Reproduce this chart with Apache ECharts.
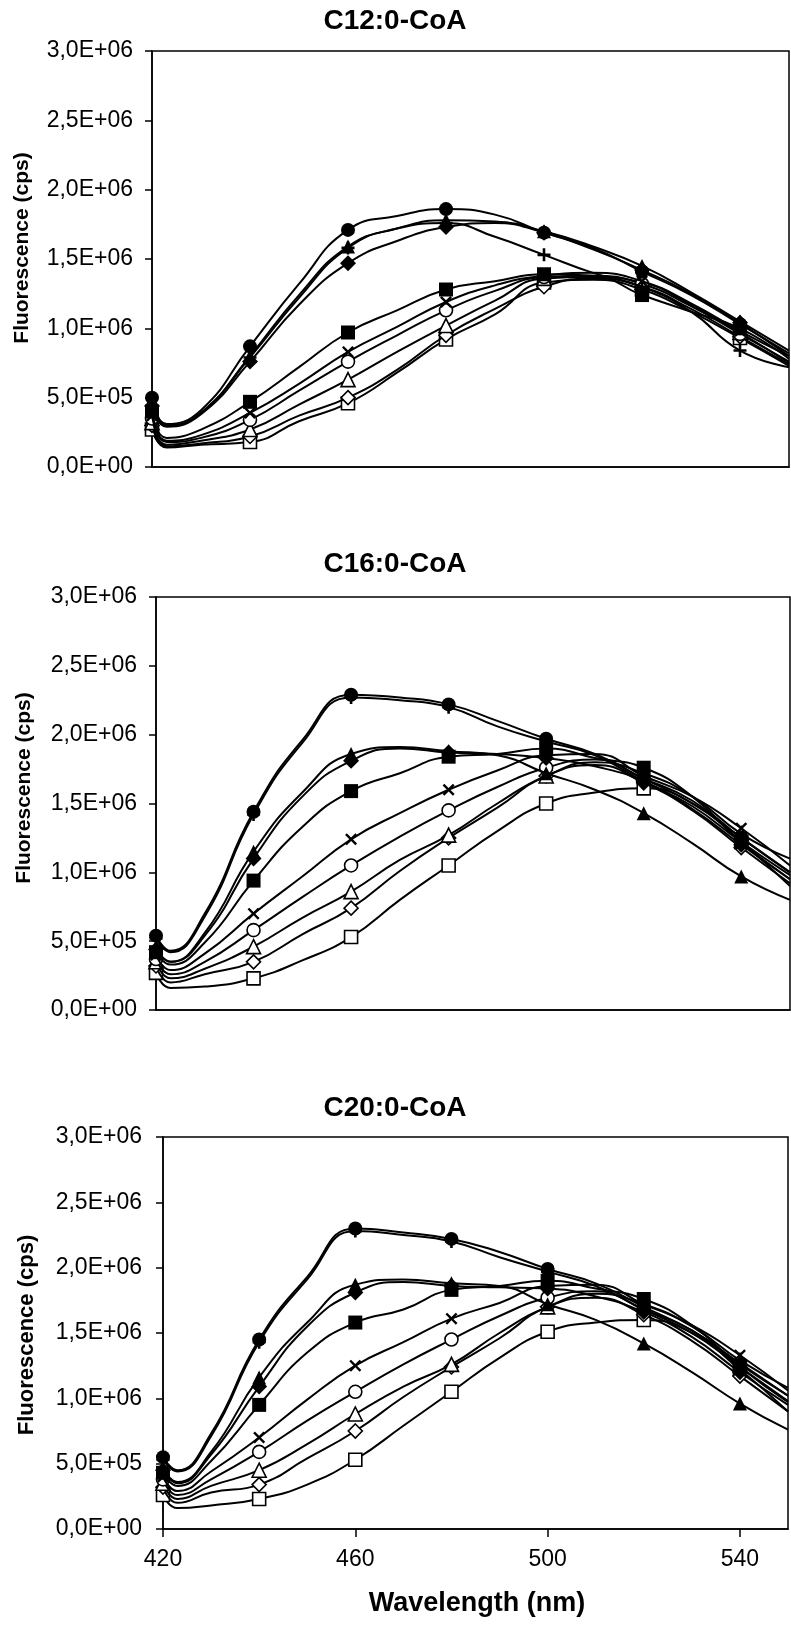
<!DOCTYPE html>
<html>
<head>
<meta charset="utf-8">
<script src="https://cdn.jsdelivr.net/npm/echarts@6/dist/echarts.min.js"></script>
<style>
  html, body { margin: 0; padding: 0; background: #fff; }
  #chart { width: 791px; height: 1642px; }
</style>
</head>
<body>
<div id="chart"></div>
<script>
const wavelengths = [420, 423, 430, 440, 450, 460, 470, 480, 490, 500, 510, 520, 530, 540, 550];
const markerWavelengths = [420, 440, 460, 480, 500, 520, 540];
const xTickValues = [420, 460, 500, 540];
const panelTitles = ["C12:0-CoA", "C16:0-CoA", "C20:0-CoA"];
const seriesNames = ["filled circle", "filled triangle", "filled diamond", "plus", "filled square",
  "cross", "open circle", "open triangle", "open diamond", "open square"];

// fluorescence, in 10^6 cps
const c12Circle       = [0.50, 0.31, 0.41, 0.87, 1.32, 1.71, 1.81, 1.86, 1.82, 1.69, 1.58, 1.41, 1.24, 1.03, 0.82];
const c12Triangle     = [0.46, 0.30, 0.39, 0.80, 1.24, 1.59, 1.72, 1.78, 1.77, 1.70, 1.59, 1.45, 1.26, 1.05, 0.84];
const c12Diamond      = [0.44, 0.29, 0.38, 0.76, 1.17, 1.47, 1.63, 1.73, 1.76, 1.69, 1.57, 1.42, 1.25, 1.04, 0.80];
const c12Plus         = [0.42, 0.30, 0.39, 0.79, 1.22, 1.58, 1.72, 1.76, 1.66, 1.53, 1.40, 1.30, 1.12, 0.84, 0.72];
const c12Square       = [0.40, 0.21, 0.27, 0.47, 0.72, 0.97, 1.13, 1.28, 1.34, 1.39, 1.38, 1.24, 1.12, 1.00, 0.78];
const c12Cross        = [0.37, 0.19, 0.23, 0.39, 0.60, 0.83, 1.01, 1.19, 1.31, 1.38, 1.40, 1.34, 1.18, 0.98, 0.80];
const c12OpenCircle   = [0.35, 0.18, 0.21, 0.34, 0.55, 0.76, 0.95, 1.13, 1.27, 1.37, 1.38, 1.32, 1.16, 0.96, 0.76];
const c12OpenTriangle = [0.32, 0.16, 0.19, 0.27, 0.45, 0.63, 0.83, 1.02, 1.20, 1.36, 1.37, 1.33, 1.17, 0.97, 0.75];
const c12OpenDiamond  = [0.30, 0.15, 0.17, 0.22, 0.37, 0.50, 0.70, 0.95, 1.14, 1.30, 1.36, 1.30, 1.14, 0.94, 0.74];
const c12OpenSquare   = [0.27, 0.14, 0.16, 0.18, 0.33, 0.46, 0.68, 0.92, 1.10, 1.33, 1.35, 1.28, 1.12, 0.93, 0.73];

const c16Circle       = [0.54, 0.43, 0.70, 1.44, 1.96, 2.29, 2.27, 2.22, 2.10, 1.97, 1.86, 1.68, 1.50, 1.25, 1.00];
const c16Triangle     = [0.45, 0.35, 0.56, 1.15, 1.58, 1.86, 1.91, 1.88, 1.85, 1.72, 1.60, 1.43, 1.21, 0.97, 0.80];
const c16Diamond      = [0.44, 0.35, 0.54, 1.10, 1.55, 1.81, 1.90, 1.87, 1.86, 1.83, 1.77, 1.66, 1.46, 1.20, 0.95];
const c16Plus         = [0.52, 0.42, 0.68, 1.42, 1.94, 2.27, 2.25, 2.20, 2.06, 1.95, 1.85, 1.66, 1.48, 1.22, 0.98];
const c16Square       = [0.42, 0.33, 0.49, 0.94, 1.33, 1.59, 1.72, 1.84, 1.86, 1.90, 1.83, 1.76, 1.55, 1.22, 0.95];
const c16Cross        = [0.40, 0.29, 0.41, 0.70, 0.97, 1.24, 1.43, 1.60, 1.74, 1.85, 1.86, 1.70, 1.55, 1.32, 1.05];
const c16OpenCircle   = [0.37, 0.26, 0.35, 0.58, 0.82, 1.05, 1.26, 1.45, 1.62, 1.76, 1.82, 1.68, 1.52, 1.25, 1.00];
const c16OpenTriangle = [0.35, 0.23, 0.30, 0.46, 0.67, 0.86, 1.09, 1.27, 1.50, 1.70, 1.80, 1.72, 1.55, 1.28, 1.10];
const c16OpenDiamond  = [0.32, 0.20, 0.26, 0.35, 0.55, 0.74, 1.01, 1.25, 1.47, 1.70, 1.78, 1.65, 1.45, 1.18, 0.92];
const c16OpenSquare   = [0.27, 0.16, 0.17, 0.23, 0.36, 0.53, 0.80, 1.05, 1.30, 1.50, 1.58, 1.61, 1.50, 1.22, 0.90];

const c20Circle       = [0.55, 0.45, 0.73, 1.45, 1.93, 2.30, 2.27, 2.22, 2.12, 1.99, 1.88, 1.70, 1.52, 1.27, 1.02];
const c20Triangle     = [0.46, 0.36, 0.59, 1.16, 1.58, 1.87, 1.91, 1.88, 1.86, 1.72, 1.60, 1.42, 1.20, 0.96, 0.76];
const c20Diamond      = [0.45, 0.35, 0.57, 1.09, 1.55, 1.81, 1.89, 1.86, 1.85, 1.84, 1.78, 1.66, 1.47, 1.20, 0.95];
const c20Plus         = [0.53, 0.44, 0.71, 1.43, 1.91, 2.28, 2.25, 2.20, 2.08, 1.97, 1.86, 1.68, 1.50, 1.24, 0.98];
const c20Square       = [0.43, 0.33, 0.52, 0.95, 1.35, 1.58, 1.68, 1.83, 1.86, 1.90, 1.84, 1.76, 1.56, 1.24, 0.97];
const c20Cross        = [0.40, 0.29, 0.44, 0.70, 0.99, 1.25, 1.43, 1.61, 1.73, 1.86, 1.87, 1.72, 1.56, 1.33, 1.06];
const c20OpenCircle   = [0.38, 0.26, 0.38, 0.59, 0.83, 1.05, 1.26, 1.45, 1.63, 1.77, 1.82, 1.68, 1.52, 1.26, 1.02];
const c20OpenTriangle = [0.35, 0.23, 0.33, 0.45, 0.65, 0.88, 1.09, 1.26, 1.50, 1.70, 1.80, 1.72, 1.55, 1.29, 1.08];
const c20OpenDiamond  = [0.32, 0.20, 0.28, 0.34, 0.54, 0.75, 1.01, 1.24, 1.46, 1.70, 1.77, 1.64, 1.44, 1.17, 0.90];
const c20OpenSquare   = [0.26, 0.16, 0.18, 0.23, 0.34, 0.53, 0.79, 1.05, 1.31, 1.51, 1.58, 1.60, 1.50, 1.22, 0.90];

const panels = [
  [c12Circle, c12Triangle, c12Diamond, c12Plus, c12Square, c12Cross, c12OpenCircle, c12OpenTriangle, c12OpenDiamond, c12OpenSquare],
  [c16Circle, c16Triangle, c16Diamond, c16Plus, c16Square, c16Cross, c16OpenCircle, c16OpenTriangle, c16OpenDiamond, c16OpenSquare],
  [c20Circle, c20Triangle, c20Diamond, c20Plus, c20Square, c20Cross, c20OpenCircle, c20OpenTriangle, c20OpenDiamond, c20OpenSquare]
];

// layout, in page pixels
const grids = [
  { left: 152, top: 51, width: 637, height: 416 },
  { left: 156, top: 597, width: 634, height: 413 },
  { left: 163, top: 1137, width: 625, height: 392 }
];
const labelMargins = [19, 19, 21];
const titleY = [21, 564, 1108];
const yNamePos = [[22, 248], [24, 788], [27, 1335]];
const yNameSize = [21, 21, 22];
const FONT = '"Liberation Sans", Arial, Helvetica, sans-serif';

const plusPath = "path://M4,0H6V4H10V6H6V10H4V6H0V4H4Z";
const crossPath = "path://M0,1.4L1.4,0L5,3.6L8.6,0L10,1.4L6.4,5L10,8.6L8.6,10L5,6.4L1.4,10L0,8.6L3.6,5Z";
const markerShapes = ["circle", "triangle", "diamond", plusPath, "rect", crossPath, "circle", "triangle", "diamond", "rect"];
const markerOpen = [false, false, false, false, false, false, true, true, true, true];
const markerSizes = [14, 14, 16, 13, 14, 12, 13, 14, 14, 13];

function sciComma(value) {
  if (value === 0) return "0,0E+00";
  const exp = Math.floor(Math.log10(value) + 1e-9);
  const mant = value / Math.pow(10, exp);
  return mant.toFixed(1).replace(".", ",") + "E+" + String(exp).padStart(2, "0");
}

const chart = echarts.init(document.getElementById("chart"), null, { renderer: "canvas" });

const series = [];
panels.forEach((curves, p) => {
  curves.forEach((values, s) => {
    const shape = markerShapes[s];
    series.push({
      name: seriesNames[s],
      type: "line",
      xAxisIndex: p,
      yAxisIndex: p,
      data: wavelengths.map((w, i) => [w, values[i] * 1e6]),
      smooth: 0.5,
      showSymbol: true,
      showAllSymbol: true,
      symbol: value => markerWavelengths.includes(value[0]) ? shape : "none",
      symbolSize: markerSizes[s],
      clip: false,
      silent: true,
      lineStyle: { color: "#000", width: 2 },
      itemStyle: markerOpen[s]
        ? { color: "#fff", borderColor: "#000", borderWidth: 1.6 }
        : { color: "#000", borderWidth: 0 },
      z: 2 + (9 - s) * 0.01
    });
  });
});

const option = {
  animation: false,
  backgroundColor: "#fff",
  grid: grids.map(g => ({ ...g, show: true, borderColor: "#000", borderWidth: 1.5, backgroundColor: "transparent", containLabel: false })),
  xAxis: grids.map((g, p) => ({
    type: "value",
    gridIndex: p,
    min: 420,
    max: 550,
    interval: 40,
    axisLine: { show: true, lineStyle: { color: "#000", width: 1.5 } },
    axisTick: p === 2
      ? { show: true, inside: false, length: 8, customValues: xTickValues, lineStyle: { color: "#000", width: 1.5 } }
      : { show: false },
    axisLabel: p === 2
      ? { show: true, customValues: xTickValues, margin: 19, color: "#000", fontSize: 23, fontFamily: FONT }
      : { show: false },
    splitLine: { show: false }
  })),
  yAxis: grids.map((g, p) => ({
    type: "value",
    gridIndex: p,
    min: 0,
    max: 3e6,
    interval: 5e5,
    axisLine: { show: true, lineStyle: { color: "#000", width: 1.5 } },
    axisTick: { show: true, inside: false, length: 7, lineStyle: { color: "#000", width: 1.5 } },
    axisLabel: { margin: labelMargins[p], color: "#000", fontSize: 23, fontFamily: FONT, formatter: sciComma },
    splitLine: { show: false }
  })),
  graphic: [
    ...panelTitles.map((title, p) => ({
      type: "text", x: 395, y: titleY[p], silent: true,
      style: { text: title, font: "bold 28px " + FONT, fill: "#000",
        textAlign: "center", textVerticalAlign: "middle", align: "center", verticalAlign: "middle" }
    })),
    ...yNamePos.map(([x, y], p) => ({
      type: "text", x, y, rotation: Math.PI / 2, silent: true,
      style: { text: "Fluorescence (cps)", font: "bold " + yNameSize[p] + "px " + FONT, fill: "#000",
        textAlign: "center", textVerticalAlign: "middle", align: "center", verticalAlign: "middle" }
    })),
    {
      type: "text", x: 477, y: 1604, silent: true,
      style: { text: "Wavelength (nm)", font: "bold 27px " + FONT, fill: "#000",
        textAlign: "center", textVerticalAlign: "middle", align: "center", verticalAlign: "middle" }
    }
  ],
  series
};

chart.setOption(option);
</script>
</body>
</html>
